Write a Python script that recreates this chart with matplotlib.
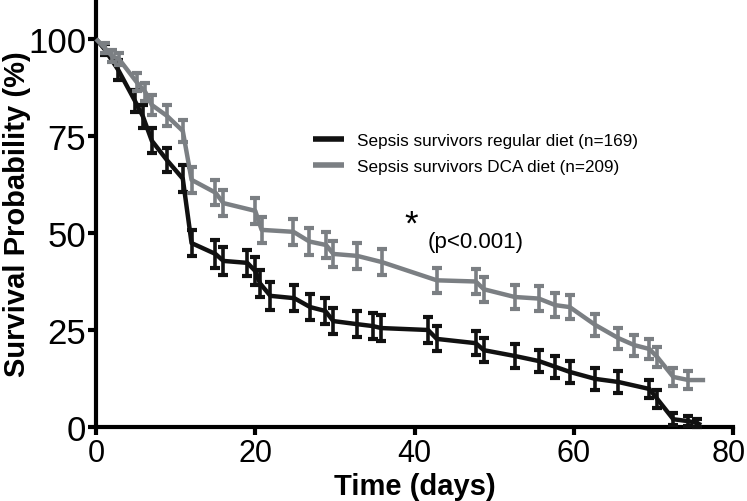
import matplotlib
matplotlib.use("Agg")
import matplotlib.pyplot as plt
import matplotlib.transforms as mtransforms
import numpy as np

plt.rcParams['font.family'] = ['Liberation Sans', 'DejaVu Sans']

# regular diet (black)
reg_days = [0, 1.1, 2.8, 4.9, 5.9, 7.0, 8.9, 10.9, 12.0, 15.0, 16.0, 19.0, 20.0, 20.6, 21.9,
            24.9, 26.9, 28.8, 29.8, 32.8, 34.8, 35.8, 41.7, 42.8, 47.7, 48.7, 52.6, 55.6,
            57.7, 59.5, 62.7, 65.6, 69.5, 70.5, 72.5, 74.4, 75.5, 76.0]
reg_surv = [100, 97.3, 92.0, 84.0, 80.0, 73.8, 68.8, 64.0, 47.4, 44.6, 42.8, 42.3, 40.2, 37.0, 33.8,
            33.2, 30.9, 29.9, 27.3, 26.5, 26.0, 25.5, 25.0, 22.7, 21.6, 19.8, 18.3, 17.0,
            15.5, 14.2, 12.4, 11.6, 9.8, 7.2, 2.0, 1.5, 1.0, 0.5]
reg_err = [0, 1.5, 2.7, 2.8, 2.9, 3.2, 3.2, 3.4, 3.4, 3.6, 3.6, 3.4, 3.5, 3.5, 3.6,
           3.4, 3.4, 3.4, 3.4, 3.3, 3.3, 3.3, 3.3, 3.2, 3.1, 3.1, 3.0, 2.9,
           2.8, 2.8, 2.8, 2.8, 2.4, 2.4, 1.6, 1.3, 1.0, 0]

# DCA diet (grey)
dca_days = [0, 1.1, 2.0, 2.9, 5.1, 6.2, 7.0, 8.9, 10.9, 12.0, 15.0, 16.0, 20.0, 20.8, 24.8,
            26.8, 28.9, 29.8, 32.8, 35.9, 42.8, 47.7, 48.7, 52.6, 55.6, 57.7, 59.5, 62.7,
            65.6, 67.6, 69.5, 70.5, 72.5, 74.4, 76.5]
dca_surv = [100, 97.7, 95.6, 94.8, 88.9, 86.3, 83.0, 80.2, 76.3, 63.7, 60.4, 57.7, 55.7, 50.8, 50.3,
            47.8, 46.9, 44.6, 44.1, 42.5, 37.8, 37.5, 35.5, 33.5, 33.1, 31.4, 30.9, 26.3,
            22.9, 21.1, 20.1, 18.0, 12.9, 12.1, 12.1]
dca_err = [0, 1.2, 1.5, 1.6, 2.3, 2.4, 2.6, 2.7, 2.8, 3.3, 3.3, 3.3, 3.4, 3.4, 3.4,
           3.4, 3.4, 3.4, 3.3, 3.3, 3.3, 3.2, 3.2, 3.2, 3.2, 3.1, 3.1, 2.9,
           2.7, 2.7, 2.7, 2.6, 2.4, 2.4, 0]

labels = ["Sepsis survivors regular diet (n=169)", "Sepsis survivors DCA diet (n=209)"]
colors = ["#111111", "#7b7f83"]

fig = plt.figure(figsize=(7.47, 5.02), dpi=100)
ax = fig.add_axes([96 / 747, 1 - 428 / 502, (733 - 96) / 747, 428 / 502])

series = [(reg_days, reg_surv, reg_err), (dca_days, dca_surv, dca_err)]
for i, (d, s, e) in enumerate(series):
    d = np.array(d); s = np.array(s); e = np.array(e)
    ax.plot(d, s, color=colors[i], linewidth=3.2, label=labels[i], zorder=3 + 2 * i,
            clip_on=False, solid_capstyle="butt")
    m = e > 0
    ax.errorbar(d[m], s[m], yerr=e[m], fmt="none", ecolor=colors[i], elinewidth=2.6,
                capsize=3.5, capthick=3, zorder=4 + 2 * i, clip_on=False)

ax.set_xlim(0, 80)
ax.set_ylim(0, 110.3)
ax.set_xticks([0, 20, 40, 60, 80])
ax.set_yticks([0, 25, 50, 75, 100])
ax.spines["top"].set_visible(False)
ax.spines["right"].set_visible(False)
for sp in ["left", "bottom"]:
    ax.spines[sp].set_linewidth(3)
ax.tick_params(axis="both", width=3, length=6, pad=1)
ax.tick_params(axis="y", labelsize=25)
ax.tick_params(axis="x", labelsize=22, pad=2)
# nudge the last x tick label so it stays inside the image
last = ax.get_xticklabels()[-1]
last.set_transform(last.get_transform() +
                   mtransforms.ScaledTranslation(-3 / 72, 0, fig.dpi_scale_trans))
ax.set_xlabel("Time (days)", fontsize=21, fontweight="bold", labelpad=3)
ax.set_ylabel("Survival Probability (%)", fontsize=21, fontweight="bold", labelpad=-2)

leg = ax.legend(loc="upper left", bbox_to_anchor=(313 / 747, 1 - 134 / 502),
                bbox_transform=fig.transFigure, frameon=False, fontsize=12.3,
                handlelength=1.8, handletextpad=0.8, labelspacing=0.62,
                borderpad=0, borderaxespad=0)
for h in leg.get_lines():
    h.set_linewidth(4)

ax.text(39.6, 52.3, "*", fontsize=25, ha="center", va="center")
ax.text(41.7, 47.7, "(p<0.001)", fontsize=16, ha="left", va="center")

fig.savefig("out.png", dpi=100)
